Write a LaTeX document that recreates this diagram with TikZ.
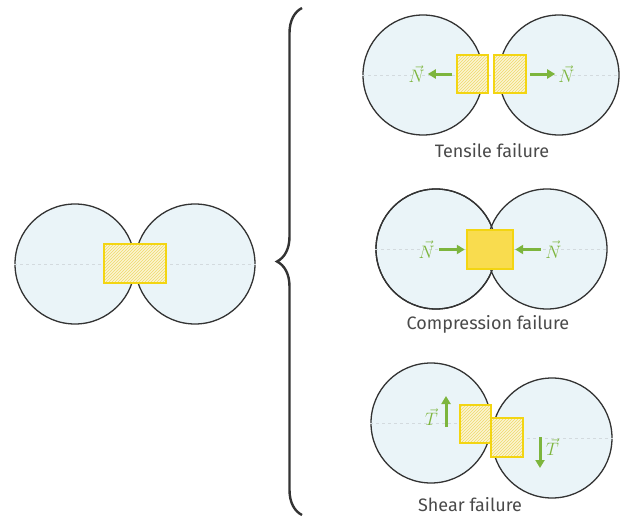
\RequirePackage{fix-cm}
\documentclass[tikz,border=0pt]{standalone}
\usepackage{fontspec}
\newfontfamily\capfont{Fira Sans}
\usepackage{tikz}
\usetikzlibrary{arrows.meta, decorations.pathreplacing, patterns, positioning}
\definecolor{Ice}{HTML}{EAF4F8}
\definecolor{Ink}{HTML}{333333}
\definecolor{Gold}{HTML}{F3D512}
\definecolor{GoldFill}{HTML}{F9DC4E}
\definecolor{Cream}{HTML}{FBF5D2}
\definecolor{Hatch}{HTML}{EFD96A}
\definecolor{Leaf}{HTML}{7DB53D}
\definecolor{Grey}{HTML}{4A4A4A}
\definecolor{Axis}{HTML}{D3DADE}
\tikzset{%
  grain_disc/.style={%
    circle,%
    draw=Ink,%
    line width=1.3,%
    fill=Ice,%
    minimum size=120,%
    inner sep=0,%
  },
  grain_rim/.style={%
    draw=Ink,%
    line width=1.3,%
  },
  centre_line/.style={%
    draw=Axis,%
    dashed,%
    line width=0.6,%
  },
  bond_hatch/.style={%
    rectangle,%
    draw=Gold,%
    line width=2.4,%
    inner sep=0,%
    preaction={fill=Cream},%
    pattern=north east lines,%
    pattern color=Hatch,%
  },
  bond_solid/.style={%
    rectangle,%
    draw=Gold,%
    line width=2.4,%
    inner sep=0,%
    fill=GoldFill,%
  },
  force_arrow/.style={%
    draw=Leaf,%
    line width=3,%
    -{Triangle[length=8pt, width=9pt]},%
  },
  force_label/.style={%
    text=Leaf,%
    inner sep=1,%
    font={\fontsize{18}{20}\selectfont},%
  },
  caption_text/.style={%
    text=Grey,%
    font={\capfont\fontsize{18}{21}\selectfont},%
  },
  brace_line/.style={%
    draw=Ink,%
    line width=2.4,%
    decorate,%
    decoration={brace, amplitude=25pt},%
  },
}

\begin{document}
\begin{tikzpicture}[x=1pt, y=-1pt]
  \useasboundingbox (0,0) rectangle (622,517);

  % intact bond
  \node [grain_disc] (CL) at (75,264) {};
  \node [grain_disc] (CR) at (195,264) {};
  \draw [centre_line] (CL.west) -- (CR.east);
  \node [bond_hatch, minimum width=62, minimum height=39] (B0) at (135,263.5) {};

  \draw [brace_line] (302,515) -- (302,8);

  % tensile failure
  \node [grain_disc] (TL) at (423,75) {};
  \node [grain_disc] (TR) at (559,75) {};
  \draw [centre_line] (TL.west) -- (TR.east);
  \node [bond_hatch, minimum width=31, minimum height=38] (TBL) at (472.5,74) {};
  \node [bond_hatch, minimum width=32, minimum height=38] (TBR) at (510,74) {};
  \node [force_label, left = 30 of TBL] (NtL) {$\vec{N}$};
  \node [force_label, right = 30 of TBR] (NtR) {$\vec{N}$};
  \draw [force_arrow, shorten <=4] (TBL.west) -- ([xshift=2]NtL.east);
  \draw [force_arrow, shorten <=3] (TBR.east) -- ([xshift=-2]NtR.west);
  \node [caption_text] (tensile) at (492,151) {Tensile failure};

  % compression failure
  \node [grain_disc] (KL) at (436,249) {};
  \node [grain_disc] (KR) at (547,249) {};
  \draw [grain_rim] (KL.center) circle (60);
  \draw [centre_line] (KL.west) -- (KR.east);
  \node [bond_solid, minimum width=46, minimum height=39] (KB) at (490,249.5) {};
  \node [force_label, left = 30 of KB] (NkL) {$\vec{N}$};
  \node [force_label, right = 30 of KB] (NkR) {$\vec{N}$};
  \draw [force_arrow, shorten <=3, shorten >=1] (NkL.east) -- (KB.west);
  \draw [force_arrow, shorten <=3, shorten >=1] (NkR.west) -- (KB.east);
  \node [caption_text] (compression) at (488,324) {Compression failure};

  % shear failure
  \node [grain_disc] (SL) at (431,423) {};
  \node [grain_disc] (SR) at (552,438) {};
  \draw [centre_line] (SL.west) -- (SL.east);
  \draw [centre_line] (SR.west) -- (SR.east);
  \node [bond_hatch, minimum width=31, minimum height=38] (SBL) at (475.5,424) {};
  \node [bond_hatch, minimum width=32, minimum height=39] (SBR) at (507,437.5) {};
  \coordinate (up_start) at (446,427);
  \coordinate (up_end) at (446,396);
  \coordinate (down_start) at (540,437);
  \coordinate (down_end) at (540,468);
  \draw [force_arrow] (up_start) -- (up_end);
  \draw [force_arrow] (down_start) -- (down_end);
  \node [force_label, left = 7 of up_start, anchor=south east] (TsL) {$\vec{T}$};
  \node [force_label, right = 5 of down_start, anchor=north west] (TsR) {$\vec{T}$};
  \node [caption_text] (shear) at (470,505) {Shear failure};
\end{tikzpicture}
\end{document}
